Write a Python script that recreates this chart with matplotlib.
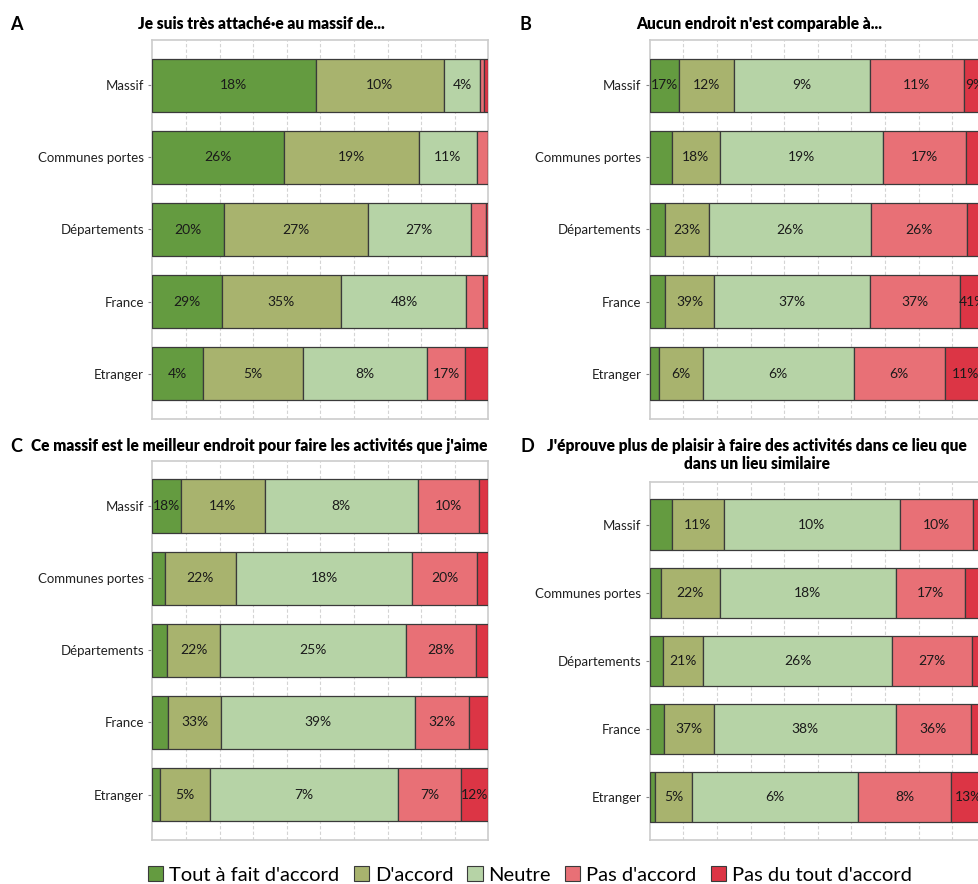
import matplotlib
matplotlib.use("Agg")
import numpy as np
import matplotlib.pyplot as plt
from matplotlib.patches import Patch

plt.rcParams['font.family'] = ['Lato', 'DejaVu Sans']

categories = ["Massif", "Communes portes", "Départements", "France", "Etranger"]
levels = ["Tout à fait d'accord", "D'accord", "Neutre", "Pas d'accord", "Pas du tout d'accord"]
colors = ["#649b40", "#a8b36e", "#b6d3a6", "#e87076", "#dc3545"]

titles = ["Je suis très attaché·e au massif de...",
          "Aucun endroit n'est comparable à...",
          "Ce massif est le meilleur endroit pour faire les activités que j'aime",
          "J'éprouve plus de plaisir à faire des activités dans ce lieu que\ndans un lieu similaire"]

# bar widths (share of each row), one row per category
shares_A = [[0.486, 0.383, 0.107, 0.012, 0.012],
            [0.391, 0.402, 0.174, 0.033, 0.000],
            [0.213, 0.428, 0.308, 0.044, 0.007],
            [0.206, 0.357, 0.372, 0.050, 0.015],
            [0.152, 0.296, 0.371, 0.112, 0.069]]
shares_B = [[0.086, 0.165, 0.405, 0.278, 0.066],
            [0.065, 0.143, 0.486, 0.247, 0.059],
            [0.046, 0.130, 0.484, 0.283, 0.057],
            [0.046, 0.146, 0.465, 0.267, 0.076],
            [0.027, 0.131, 0.449, 0.271, 0.122]]
shares_C = [[0.084, 0.250, 0.456, 0.183, 0.027],
            [0.037, 0.211, 0.526, 0.193, 0.033],
            [0.044, 0.158, 0.554, 0.206, 0.038],
            [0.047, 0.158, 0.576, 0.161, 0.058],
            [0.022, 0.149, 0.559, 0.190, 0.080]]
shares_D = [[0.065, 0.155, 0.524, 0.217, 0.039],
            [0.034, 0.174, 0.524, 0.207, 0.061],
            [0.040, 0.120, 0.560, 0.238, 0.042],
            [0.044, 0.146, 0.543, 0.223, 0.044],
            [0.015, 0.112, 0.494, 0.276, 0.103]]

# labels printed inside the bars
labels_A = [["18%", "10%", "4%", "", ""],
            ["26%", "19%", "11%", "", ""],
            ["20%", "27%", "27%", "", ""],
            ["29%", "35%", "48%", "", ""],
            ["4%", "5%", "8%", "17%", ""]]
labels_B = [["17%", "12%", "9%", "11%", "9%"],
            ["", "18%", "19%", "17%", ""],
            ["", "23%", "26%", "26%", ""],
            ["", "39%", "37%", "37%", "41%"],
            ["", "6%", "6%", "6%", "11%"]]
labels_C = [["18%", "14%", "8%", "10%", ""],
            ["", "22%", "18%", "20%", ""],
            ["", "22%", "25%", "28%", ""],
            ["", "33%", "39%", "32%", ""],
            ["", "5%", "7%", "7%", "12%"]]
labels_D = [["", "11%", "10%", "10%", ""],
            ["", "22%", "18%", "17%", ""],
            ["", "21%", "26%", "27%", ""],
            ["", "37%", "38%", "36%", ""],
            ["", "5%", "6%", "8%", "13%"]]

W, H = 979, 884
fig = plt.figure(figsize=(W / 100, H / 100), dpi=100)


def rect(x0, top, w, h):
    return [x0 / W, 1 - (top + h) / H, w / W, h / H]


panels = [("A", shares_A, labels_A, titles[0], rect(152.3, 40, 336, 379), (10, 24), (261, 24)),
          ("B", shares_B, labels_B, titles[1], rect(649.7, 40, 336, 379), (520, 24), (759, 24)),
          ("C", shares_C, labels_C, titles[2], rect(152.3, 460.7, 336, 379.3), (10, 446), (259, 446)),
          ("D", shares_D, labels_D, titles[3], rect(649.7, 481.7, 336, 358.3), (521, 446), (757, 455))]

y = np.arange(len(categories))
for letter, shares, labels, title, r, lpos, tpos in panels:
    ax = fig.add_axes(r)
    shares = np.array(shares)
    left = np.zeros(len(categories))
    for j in range(len(levels)):
        ax.barh(y, shares[:, j], left=left, height=0.74, color=colors[j],
                edgecolor="#3a3a3a", linewidth=0.9, zorder=3)
        for i in range(len(categories)):
            if labels[i][j]:
                ax.text(left[i] + shares[i, j] / 2, y[i], labels[i][j],
                        ha="center", va="center", fontsize=10, color="#1a1a1a", zorder=4)
        left += shares[:, j]
    ax.set_xlim(0, 1)
    ax.set_ylim(4.63, -0.63)
    ax.set_yticks(y)
    ax.set_yticklabels(categories, fontsize=9.5, color="#222222")
    ax.set_xticks(np.arange(0.1, 1.0, 0.1))
    ax.tick_params(axis="x", length=0, labelbottom=False)
    ax.tick_params(axis="y", length=3, color="#888888", pad=3)
    ax.grid(axis="x", color="#d4d4d4", linestyle=(0, (3, 2)), linewidth=0.8, zorder=0)
    for s in ax.spines.values():
        s.set_color("#cccccc")
        s.set_linewidth(1.2)
    fig.text(lpos[0] / W, 1 - lpos[1] / H, letter, fontsize=13, fontweight="bold",
             ha="left", va="center")
    fig.text(tpos[0] / W, 1 - tpos[1] / H, title, fontsize=11.2, fontweight="heavy",
             ha="center", va="center", linespacing=1.2)

handles = [Patch(facecolor=c, edgecolor="#3a3a3a", linewidth=0.8) for c in colors]
fig.legend(handles, levels, loc="center", bbox_to_anchor=(530 / W, 1 - 875 / H), ncol=5,
           frameon=False, fontsize=14.5, handlelength=0.75, handleheight=0.75,
           handletextpad=0.3, columnspacing=0.7)

fig.savefig("out.png", dpi=100)
